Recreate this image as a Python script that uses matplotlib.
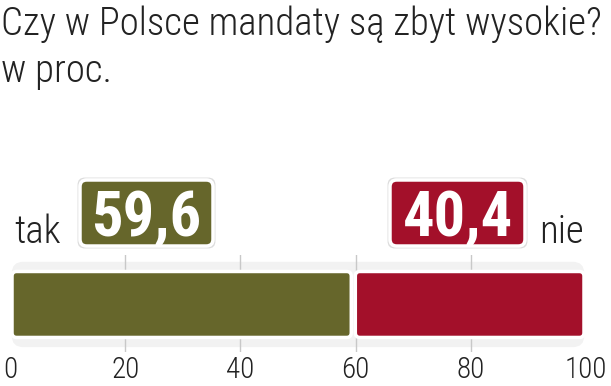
import matplotlib
matplotlib.use("Agg")
import matplotlib.pyplot as plt
from matplotlib.patches import FancyBboxPatch

# chart data
categories = ["tak", "nie"]
values = [59.6, 40.4]
value_labels = ["59,6", "40,4"]
colors = ["#66662b", "#a3102a"]
ticks = [0, 20, 40, 60, 80, 100]

title = "Czy w Polsce mandaty są zbyt wysokie?"
subtitle = "w proc."

FONT = "Roboto Condensed"
INK = "#222222"

W, H = 611, 386
fig = plt.figure(figsize=(W / 100, H / 100), dpi=100)


def px(x, y):
    # pixel position (from top-left) -> figure fraction
    return x / W, 1 - y / H


# axis band with the bar
ax_l, ax_r, ax_t, ax_b = 10, 586, 255, 352
ax = fig.add_axes([ax_l / W, 1 - ax_b / H, (ax_r - ax_l) / W, (ax_b - ax_t) / H])
ax.set_xlim(0, 100)
ax.set_ylim(0, 1)
ax.axis("off")

# light grey backdrop behind the bar
ax.add_patch(FancyBboxPatch((0.3, 0.05), 99.4, 0.88,
                            boxstyle="round,pad=0,rounding_size=2",
                            mutation_aspect=0.06,
                            facecolor="#f2f2f2", edgecolor="none", zorder=0))

for t in ticks[1:-1]:
    ax.axvline(t, color="#c8c8c8", lw=1, zorder=1)

left = 0
for v, c in zip(values, colors):
    ax.add_patch(FancyBboxPatch((left + 0.35, 0.15), v - 0.7, 0.68,
                                boxstyle="round,pad=0,rounding_size=0.8",
                                mutation_aspect=0.06,
                                facecolor=c, edgecolor="white", lw=2.5,
                                zorder=3))
    left += v

# tick labels
for t in ticks:
    ax.text(t, -0.27, str(t), ha="center", va="baseline", fontsize=21,
            family=FONT, fontweight="light", color=INK, clip_on=False)

# title
fig.text(*px(1, 35), title, fontsize=28, family=FONT, fontweight="light",
         color=INK, va="baseline", ha="left")
fig.text(*px(1, 82), subtitle, fontsize=28, family=FONT, fontweight="light",
         color=INK, va="baseline", ha="left")

# category labels
fig.text(*px(14, 243), categories[0], fontsize=28, family=FONT,
         fontweight="light", color=INK, va="baseline", ha="left")
fig.text(*px(584, 243), categories[1], fontsize=28, family=FONT,
         fontweight="light", color=INK, va="baseline", ha="right")

# value boxes (pixel layout: left, right of each box)
box_top, box_bot = 180, 246
for (x0, x1), lab, c in zip([(80, 213), (390, 525)], value_labels, colors):
    fx0, fy0 = px(x0, box_bot)
    fx1, fy1 = px(x1, box_top)
    # soft grey halo, then white-rimmed coloured box
    fig.patches.append(FancyBboxPatch(
        (fx0, fy0), fx1 - fx0, fy1 - fy0, transform=fig.transFigure,
        boxstyle="round,pad=0.004,rounding_size=0.012",
        mutation_aspect=W / H, facecolor="#dcdcdc", edgecolor="none",
        zorder=1))
    fig.patches.append(FancyBboxPatch(
        (fx0, fy0), fx1 - fx0, fy1 - fy0, transform=fig.transFigure,
        boxstyle="round,pad=0,rounding_size=0.011",
        mutation_aspect=W / H, facecolor=c, edgecolor="white", lw=2.5,
        zorder=2))
    fig.text((fx0 + fx1) / 2, (fy0 + fy1) / 2, lab, fontsize=45,
             fontweight="bold", family=FONT, color="white", ha="center",
             va="center_baseline", zorder=3)

fig.savefig("out.png", dpi=100)
